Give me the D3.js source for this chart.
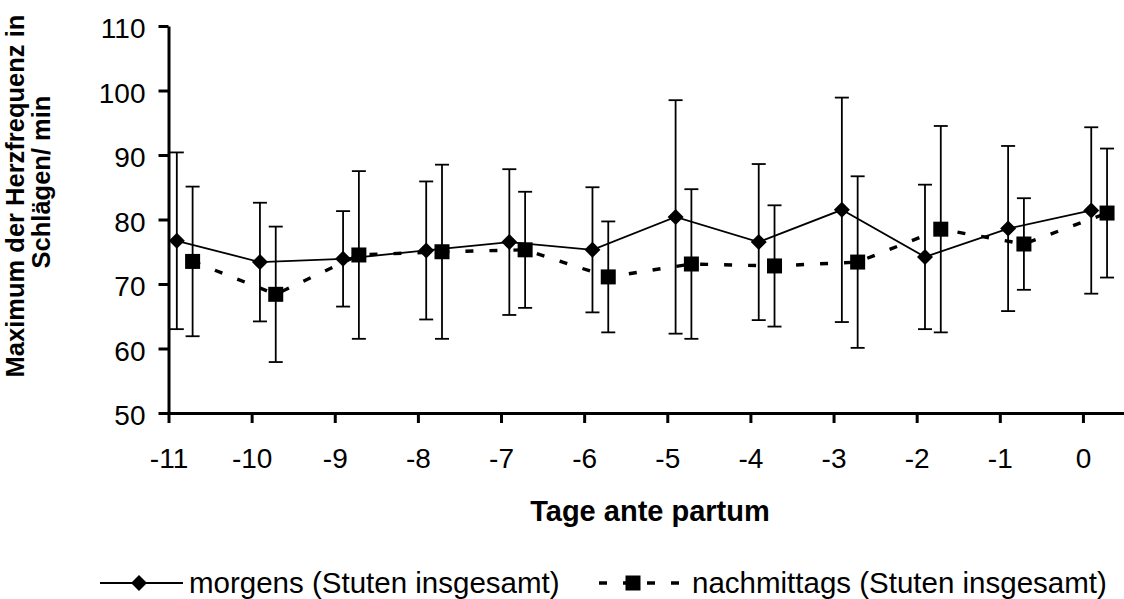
<!DOCTYPE html>
<html>
<head>
<meta charset="utf-8">
<script src="https://cdn.jsdelivr.net/npm/d3@7"></script>
<style>
  html, body { margin: 0; padding: 0; background: #fff; }
  svg { display: block; font-family: "Liberation Sans", Arial, sans-serif; }
</style>
</head>
<body>
<svg id="chart" width="1124" height="599"></svg>
<script>
// ---- data ----
const days = [-11, -10, -9, -8, -7, -6, -5, -4, -3, -2, -1, 0];
const morgensMean = [76.7, 73.4, 73.9, 75.2, 76.5, 75.3, 80.4, 76.5, 81.5, 74.2, 78.6, 81.4];
const morgensSD   = [13.7, 9.2, 7.4, 10.7, 11.3, 9.7, 18.1, 12.1, 17.4, 11.2, 12.8, 12.9];
const nachmMean   = [73.5, 68.4, 74.5, 75.0, 75.3, 71.1, 73.1, 72.8, 73.4, 78.5, 76.2, 81.0];
const nachmSD     = [11.6, 10.5, 13.0, 13.5, 9.0, 8.6, 11.6, 9.4, 13.3, 16.0, 7.1, 10.0];
const yTicks = [50, 60, 70, 80, 90, 100, 110];
const seriesNames = ["morgens (Stuten insgesamt)", "nachmittags (Stuten insgesamt)"];
const xTitle = "Tage ante partum";
const yTitleLines = ["Maximum der Herzfrequenz in", "Schlägen/ min"];

// ---- layout ----
const svg = d3.select("#chart");
const x = d3.scaleLinear().domain([-11, 0.5]).range([168.5, 1124.5]);
const y = d3.scaleLinear().domain([50, 110]).range([413, 26]);
const xOffset = [0.1, 0.29]; // horizontal shift of the two series within a day

const series = [
  { name: seriesNames[0], mean: morgensMean, sd: morgensSD, off: xOffset[0], marker: "diamond", dash: null, width: 1.8 },
  { name: seriesNames[1], mean: nachmMean, sd: nachmSD, off: xOffset[1], marker: "square", dash: "8,16", width: 3.4 }
];

// ---- axes ----
const yAxis = d3.axisLeft(y).tickValues(yTicks).tickSize(10).tickSizeOuter(0).tickPadding(13);
const gy = svg.append("g").attr("transform", "translate(168.5,0)").call(yAxis);
const xAxis = d3.axisBottom(x).tickValues(days).tickSize(10).tickSizeOuter(0).tickPadding(25)
  .tickFormat(d3.format("d"));
const gx = svg.append("g").attr("transform", "translate(0,413)").call(xAxis);

[gx, gy].forEach(g => {
  g.select(".domain").attr("stroke", "#000").attr("stroke-width", 3);
  g.selectAll(".tick line").attr("stroke", "#000").attr("stroke-width", 3);
  g.selectAll(".tick text").attr("fill", "#000").style("font-size", "28px")
    .style("font-family", "'Liberation Sans', Arial, sans-serif");
});
gy.selectAll(".tick text").attr("dy", "0.42em");
gx.selectAll(".tick text").text(d => d3.format("d")(d).replace("−", "-"));

// axis titles
svg.append("text").attr("x", 650).attr("y", 521).attr("text-anchor", "middle")
  .style("font-size", "29px").style("font-weight", "bold").text(xTitle);

const yTitleCenters = [196, 182];
const yTitleBase = [24, 50];
yTitleLines.forEach((t, i) => {
  svg.append("text")
    .attr("transform", `translate(${yTitleBase[i]},${yTitleCenters[i]}) rotate(-90)`)
    .attr("text-anchor", "middle")
    .style("font-size", "25.5px").style("font-weight", "bold").text(t);
});

// ---- marks ----
const plot = svg.append("g");
function drawMarker(g, type, cx, cy, scale = 1) {
  if (type === "diamond") {
    const r = 8 * scale;
    g.append("path").attr("d", `M${cx},${cy - r}L${cx + r},${cy}L${cx},${cy + r}L${cx - r},${cy}Z`).attr("fill", "#000");
  } else {
    const s = 15 * scale;
    g.append("rect").attr("x", cx - s / 2).attr("y", cy - s / 2).attr("width", s).attr("height", s).attr("fill", "#000");
  }
}

series.forEach(s => {
  const pts = days.map((d, i) => ({ xv: d + s.off, m: s.mean[i], sd: s.sd[i] }));
  const line = d3.line().x(p => x(p.xv)).y(p => y(p.m));
  const path = plot.append("path").datum(pts).attr("d", line)
    .attr("fill", "none").attr("stroke", "#000").attr("stroke-width", s.width);
  if (s.dash) path.attr("stroke-dasharray", s.dash);
});

series.forEach(s => {
  const pts = days.map((d, i) => ({ xv: d + s.off, m: s.mean[i], sd: s.sd[i] }));
  const g = plot.append("g");
  pts.forEach(p => {
    const cx = x(p.xv);
    g.append("line").attr("x1", cx).attr("x2", cx).attr("y1", y(p.m + p.sd)).attr("y2", y(p.m - p.sd))
      .attr("stroke", "#000").attr("stroke-width", 1.8);
    [p.m + p.sd, p.m - p.sd].forEach(v => {
      g.append("line").attr("x1", cx - 7).attr("x2", cx + 7).attr("y1", y(v)).attr("y2", y(v))
        .attr("stroke", "#000").attr("stroke-width", 1.8);
    });
  });
  pts.forEach(p => drawMarker(g, s.marker, x(p.xv), y(p.m)));
});

// ---- legend ----
const leg = svg.append("g");
const legY = 583;
leg.append("line").attr("x1", 100).attr("x2", 183).attr("y1", legY).attr("y2", legY)
  .attr("stroke", "#000").attr("stroke-width", 1.8);
drawMarker(leg, "diamond", 139, legY);
leg.append("text").attr("x", 189).attr("y", 593).style("font-size", "29.5px").text(seriesNames[0]);
leg.append("line").attr("x1", 599).attr("x2", 687).attr("y1", legY).attr("y2", legY)
  .attr("stroke", "#000").attr("stroke-width", 3.4).attr("stroke-dasharray", "8,16");
drawMarker(leg, "square", 633, legY);
leg.append("text").attr("x", 692).attr("y", 593).style("font-size", "29.5px").text(seriesNames[1]);
</script>
</body>
</html>
